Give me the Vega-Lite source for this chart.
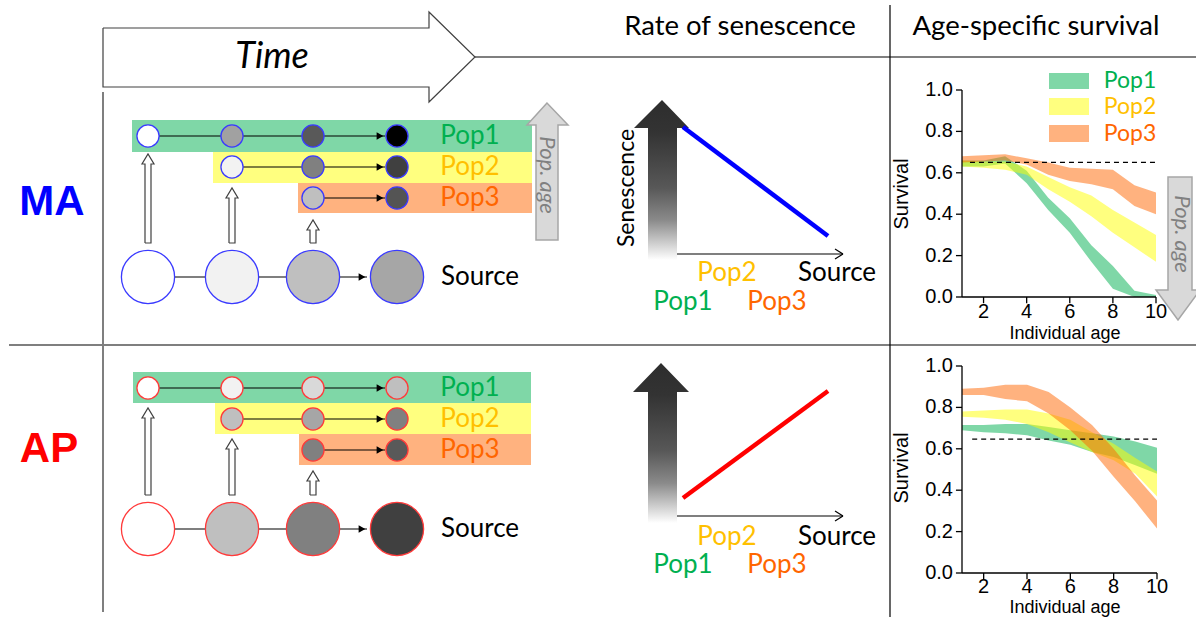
{
"$schema": "https://vega.github.io/schema/vega-lite/v6.json",
"width": 1196, "height": 617, "padding": 0, "autosize": "none",
"background": "white",
"config": {"view": {"stroke": null}},
"datasets": {
"bands": [
{"pop":"Pop1","x":132,"x2":532,"y":120,"y2":152},{"pop":"Pop2","x":213,"x2":532,"y":152,"y2":183},{"pop":"Pop3","x":298,"x2":532,"y":183,"y2":213},
{"pop":"Pop1","x":133,"x2":531,"y":372,"y2":403},{"pop":"Pop2","x":215,"x2":531,"y":403,"y2":434},{"pop":"Pop3","x":299,"x2":531,"y":434,"y2":465},
{"pop":"Pop1","x":1049,"x2":1089,"y":73,"y2":89},{"pop":"Pop2","x":1049,"x2":1089,"y":98,"y2":115},{"pop":"Pop3","x":1049,"x2":1089,"y":125,"y2":142}],
"frame": [{"x":475,"y":57,"x2":1196,"y2":57},{"x":890,"y":5,"x2":890,"y2":617},{"x":9,"y":345,"x2":1196,"y2":345}],
"border": [{"x":103,"y":92,"x2":103,"y2":612}],
"outline": [
{"id":"T","o":1,"x":103,"y":28},{"id":"T","o":2,"x":429,"y":28},{"id":"T","o":3,"x":429,"y":12},{"id":"T","o":4,"x":475,"y":57},{"id":"T","o":5,"x":429,"y":102},{"id":"T","o":6,"x":429,"y":87},{"id":"T","o":7,"x":103,"y":87},{"id":"T","o":8,"x":103,"y":28},
{"id":"A1","o":1,"x":145,"y":243},{"id":"A1","o":2,"x":145,"y":164},{"id":"A1","o":3,"x":142,"y":164},{"id":"A1","o":4,"x":148,"y":154},{"id":"A1","o":5,"x":154,"y":164},{"id":"A1","o":6,"x":151,"y":164},{"id":"A1","o":7,"x":151,"y":243},{"id":"A1","o":8,"x":145,"y":243},
{"id":"A2","o":1,"x":229,"y":243},{"id":"A2","o":2,"x":229,"y":198},{"id":"A2","o":3,"x":226,"y":198},{"id":"A2","o":4,"x":232,"y":188},{"id":"A2","o":5,"x":238,"y":198},{"id":"A2","o":6,"x":235,"y":198},{"id":"A2","o":7,"x":235,"y":243},{"id":"A2","o":8,"x":229,"y":243},
{"id":"A3","o":1,"x":310,"y":243},{"id":"A3","o":2,"x":310,"y":230},{"id":"A3","o":3,"x":307,"y":230},{"id":"A3","o":4,"x":313,"y":220},{"id":"A3","o":5,"x":319,"y":230},{"id":"A3","o":6,"x":316,"y":230},{"id":"A3","o":7,"x":316,"y":243},{"id":"A3","o":8,"x":310,"y":243},
{"id":"A4","o":1,"x":145,"y":495},{"id":"A4","o":2,"x":145,"y":418},{"id":"A4","o":3,"x":142,"y":418},{"id":"A4","o":4,"x":148,"y":408},{"id":"A4","o":5,"x":154,"y":418},{"id":"A4","o":6,"x":151,"y":418},{"id":"A4","o":7,"x":151,"y":495},{"id":"A4","o":8,"x":145,"y":495},
{"id":"A5","o":1,"x":229,"y":495},{"id":"A5","o":2,"x":229,"y":449},{"id":"A5","o":3,"x":226,"y":449},{"id":"A5","o":4,"x":232,"y":439},{"id":"A5","o":5,"x":238,"y":449},{"id":"A5","o":6,"x":235,"y":449},{"id":"A5","o":7,"x":235,"y":495},{"id":"A5","o":8,"x":229,"y":495},
{"id":"A6","o":1,"x":310,"y":495},{"id":"A6","o":2,"x":310,"y":481},{"id":"A6","o":3,"x":307,"y":481},{"id":"A6","o":4,"x":313,"y":471},{"id":"A6","o":5,"x":319,"y":481},{"id":"A6","o":6,"x":316,"y":481},{"id":"A6","o":7,"x":316,"y":495},{"id":"A6","o":8,"x":310,"y":495}],
"connectors": [
{"x":148,"y":136,"x2":385,"y2":136},{"x":232,"y":167,"x2":385,"y2":167},{"x":313,"y":198,"x2":385,"y2":198},{"x":148,"y":277,"x2":367,"y2":277},
{"x":148,"y":388,"x2":385,"y2":388},{"x":232,"y":419,"x2":385,"y2":419},{"x":313,"y":450,"x2":385,"y2":450},{"x":148,"y":529,"x2":367,"y2":529},
{"x":670,"y":254,"x2":843,"y2":254},{"x":835,"y":249,"x2":843,"y2":254},{"x":843,"y":254,"x2":835,"y2":259},
{"x":670,"y":516,"x2":843,"y2":516},{"x":835,"y":511,"x2":843,"y2":516},{"x":843,"y":516,"x2":835,"y2":521}],
"heads": [{"x":380,"y":136},{"x":380,"y":167},{"x":380,"y":198},{"x":362,"y":277},{"x":380,"y":388},{"x":380,"y":419},{"x":380,"y":450},{"x":362,"y":529}],
"grad": [
{"id":"MA","y":100,"x":662,"x2":662},{"id":"MA","y":128,"x":634,"x2":689},{"id":"MA","y":128,"x":648,"x2":677},{"id":"MA","y":260,"x":648,"x2":677},
{"id":"AP","y":363,"x":661,"x2":661},{"id":"AP","y":392,"x":633,"x2":689},{"id":"AP","y":392,"x":648,"x2":677},{"id":"AP","y":523,"x":648,"x2":677}],
"gray": [
{"id":"L","y":103,"x":547,"x2":547},{"id":"L","y":125,"x":527,"x2":568},{"id":"L","y":125,"x":536,"x2":558},{"id":"L","y":240,"x":536,"x2":558},
{"id":"R","y":177,"x":1168,"x2":1192},{"id":"R","y":290,"x":1168,"x2":1192},{"id":"R","y":290,"x":1156,"x2":1200},{"id":"R","y":320,"x":1178,"x2":1178}],
"trend": [{"pop":"MA","x":683,"y":127,"x2":828,"y2":236},{"pop":"AP","x":683,"y":498,"x2":828,"y2":391}],
"smallCircles": [
{"model":"MA","x":148,"y":136,"level":0},{"model":"MA","x":232,"y":136,"level":0.37},{"model":"MA","x":313,"y":136,"level":0.65},{"model":"MA","x":397,"y":136,"level":1},
{"model":"MA","x":232,"y":167,"level":0.05},{"model":"MA","x":313,"y":167,"level":0.5},{"model":"MA","x":397,"y":167,"level":0.75},
{"model":"MA","x":313,"y":198,"level":0.25},{"model":"MA","x":397,"y":198,"level":0.67},
{"model":"AP","x":148,"y":388,"level":0},{"model":"AP","x":232,"y":388,"level":0.05},{"model":"AP","x":313,"y":388,"level":0.15},{"model":"AP","x":397,"y":388,"level":0.25},
{"model":"AP","x":232,"y":419,"level":0.25},{"model":"AP","x":313,"y":419,"level":0.35},{"model":"AP","x":397,"y":419,"level":0.5},
{"model":"AP","x":313,"y":450,"level":0.5},{"model":"AP","x":397,"y":450,"level":0.65}],
"sourceCircles": [
{"model":"MA","x":148,"y":277,"level":0},{"model":"MA","x":232,"y":277,"level":0.05},{"model":"MA","x":313,"y":277,"level":0.25},{"model":"MA","x":397,"y":277,"level":0.35},
{"model":"AP","x":148,"y":529,"level":0},{"model":"AP","x":232,"y":529,"level":0.25},{"model":"AP","x":313,"y":529,"level":0.5},{"model":"AP","x":397,"y":529,"level":0.75}],
"popLabels": [
{"label":"Pop1","x":470,"y":136},{"label":"Pop2","x":470,"y":167},{"label":"Pop3","x":470,"y":198},{"label":"Source","x":480,"y":277},
{"label":"Pop1","x":470,"y":388},{"label":"Pop2","x":470,"y":419},{"label":"Pop3","x":470,"y":450},{"label":"Source","x":480,"y":529},
{"label":"Pop2","x":727,"y":273},{"label":"Source","x":837,"y":273},{"label":"Pop1","x":683,"y":302},{"label":"Pop3","x":777,"y":302},
{"label":"Pop2","x":727,"y":537},{"label":"Source","x":837,"y":537},{"label":"Pop1","x":683,"y":565},{"label":"Pop3","x":777,"y":565}],
"legendLabels": [{"label":"Pop1","x":1130,"y":81},{"label":"Pop2","x":1130,"y":107},{"label":"Pop3","x":1130,"y":134}],
"models": [{"label":"MA","x":52,"y":202},{"label":"AP","x":49,"y":449}],
"headers": [{"label":"Rate of senescence","x":740,"y":27},{"label":"Age-specific survival","x":1036,"y":27}],
"timeLabel": [{"label":"Time","x":272,"y":57}],
"senLabel": [{"label":"Senescence","x":627,"y":188}],
"popAge": [{"label":"Pop. age","x":547,"y":175},{"label":"Pop. age","x":1182,"y":234}],
"survTitles": [{"label":"Survival","x":902,"y":194},{"label":"Survival","x":902,"y":468}],
"ageTitles": [{"label":"Individual age","x":1065,"y":334},{"label":"Individual age","x":1065,"y":608}],
"xticks": [{"age":2},{"age":4},{"age":6},{"age":8},{"age":10}],
"yticks": [{"s":0},{"s":0.2},{"s":0.4},{"s":0.6},{"s":0.8},{"s":1}],
"survMA": [
{"age":1,"pop":"Pop1","lo":0.63,"hi":0.66},{"age":2,"pop":"Pop1","lo":0.63,"hi":0.66},{"age":3,"pop":"Pop1","lo":0.645,"hi":0.68},{"age":4,"pop":"Pop1","lo":0.55,"hi":0.61},{"age":5,"pop":"Pop1","lo":0.42,"hi":0.48},{"age":6,"pop":"Pop1","lo":0.31,"hi":0.38},{"age":7,"pop":"Pop1","lo":0.17,"hi":0.25},{"age":8,"pop":"Pop1","lo":0.04,"hi":0.15},{"age":9,"pop":"Pop1","lo":0.0,"hi":0.03},{"age":10,"pop":"Pop1","lo":0.0,"hi":0.01},
{"age":1,"pop":"Pop2","lo":0.63,"hi":0.66},{"age":2,"pop":"Pop2","lo":0.625,"hi":0.655},{"age":3,"pop":"Pop2","lo":0.615,"hi":0.655},{"age":4,"pop":"Pop2","lo":0.59,"hi":0.63},{"age":5,"pop":"Pop2","lo":0.52,"hi":0.58},{"age":6,"pop":"Pop2","lo":0.46,"hi":0.53},{"age":7,"pop":"Pop2","lo":0.39,"hi":0.49},{"age":8,"pop":"Pop2","lo":0.31,"hi":0.42},{"age":9,"pop":"Pop2","lo":0.24,"hi":0.36},{"age":10,"pop":"Pop2","lo":0.17,"hi":0.3},
{"age":1,"pop":"Pop3","lo":0.65,"hi":0.68},{"age":2,"pop":"Pop3","lo":0.655,"hi":0.685},{"age":3,"pop":"Pop3","lo":0.66,"hi":0.69},{"age":4,"pop":"Pop3","lo":0.64,"hi":0.67},{"age":5,"pop":"Pop3","lo":0.59,"hi":0.65},{"age":6,"pop":"Pop3","lo":0.56,"hi":0.625},{"age":7,"pop":"Pop3","lo":0.545,"hi":0.62},{"age":8,"pop":"Pop3","lo":0.52,"hi":0.615},{"age":9,"pop":"Pop3","lo":0.44,"hi":0.54},{"age":10,"pop":"Pop3","lo":0.4,"hi":0.505}],
"survAP": [
{"age":1,"pop":"Pop1","lo":0.69,"hi":0.715},{"age":2,"pop":"Pop1","lo":0.68,"hi":0.715},{"age":3,"pop":"Pop1","lo":0.675,"hi":0.72},{"age":4,"pop":"Pop1","lo":0.665,"hi":0.72},{"age":5,"pop":"Pop1","lo":0.64,"hi":0.705},{"age":6,"pop":"Pop1","lo":0.62,"hi":0.69},{"age":7,"pop":"Pop1","lo":0.585,"hi":0.675},{"age":8,"pop":"Pop1","lo":0.56,"hi":0.66},{"age":9,"pop":"Pop1","lo":0.52,"hi":0.635},{"age":10,"pop":"Pop1","lo":0.48,"hi":0.605},
{"age":1,"pop":"Pop2","lo":0.755,"hi":0.78},{"age":2,"pop":"Pop2","lo":0.75,"hi":0.785},{"age":3,"pop":"Pop2","lo":0.74,"hi":0.79},{"age":4,"pop":"Pop2","lo":0.72,"hi":0.79},{"age":5,"pop":"Pop2","lo":0.68,"hi":0.77},{"age":6,"pop":"Pop2","lo":0.63,"hi":0.74},{"age":7,"pop":"Pop2","lo":0.585,"hi":0.68},{"age":8,"pop":"Pop2","lo":0.545,"hi":0.625},{"age":9,"pop":"Pop2","lo":0.48,"hi":0.555},{"age":10,"pop":"Pop2","lo":0.37,"hi":0.49},
{"age":1,"pop":"Pop3","lo":0.86,"hi":0.89},{"age":2,"pop":"Pop3","lo":0.86,"hi":0.895},{"age":3,"pop":"Pop3","lo":0.84,"hi":0.91},{"age":4,"pop":"Pop3","lo":0.83,"hi":0.91},{"age":5,"pop":"Pop3","lo":0.77,"hi":0.875},{"age":6,"pop":"Pop3","lo":0.69,"hi":0.8},{"age":7,"pop":"Pop3","lo":0.59,"hi":0.715},{"age":8,"pop":"Pop3","lo":0.465,"hi":0.6},{"age":9,"pop":"Pop3","lo":0.345,"hi":0.47},{"age":10,"pop":"Pop3","lo":0.215,"hi":0.35}]
},
"resolve": {"scale": {"x": "independent", "y": "independent", "color": "independent", "fill": "independent", "stroke": "independent"}},
"layer": [
{
"encoding": {
"x": {"field": "x", "type": "quantitative", "scale": {"domain": [0, 1196], "nice": false, "zero": false}, "axis": null},
"y": {"field": "y", "type": "quantitative", "scale": {"domain": [0, 617], "reverse": true, "nice": false, "zero": false}, "axis": null}
},
"layer": [
{"data": {"name": "bands"}, "mark": {"type": "rect", "opacity": 0.5},
 "encoding": {"x2": {"field": "x2"}, "y2": {"field": "y2"},
 "color": {"field": "pop", "type": "nominal", "scale": {"domain": ["Pop1","Pop2","Pop3","MA","AP"], "range": ["#00b050","#ffff00","#ff6600","#0000ff","#ff0000"]}, "legend": null}}},
{"data": {"name": "frame"}, "mark": {"type": "rule", "color": "#000000", "strokeWidth": 1.2},
 "encoding": {"x2": {"field": "x2"}, "y2": {"field": "y2"}}},
{"data": {"name": "border"}, "mark": {"type": "rule", "color": "#7f7f7f", "strokeWidth": 2},
 "encoding": {"x2": {"field": "x2"}, "y2": {"field": "y2"}}},
{"data": {"name": "outline"}, "mark": {"type": "line", "color": "#404040", "strokeWidth": 1.2},
 "encoding": {"detail": {"field": "id"}, "order": {"field": "o", "type": "quantitative"}}},
{"data": {"name": "connectors"}, "mark": {"type": "rule", "color": "#000000", "strokeWidth": 1.2},
 "encoding": {"x2": {"field": "x2"}, "y2": {"field": "y2"}}},
{"data": {"name": "heads"}, "mark": {"type": "point", "shape": "triangle-right", "filled": true, "color": "#000000", "size": 60, "opacity": 1}},
{"data": {"name": "grad"}, "mark": {"type": "area", "orient": "horizontal",
 "fill": {"gradient": "linear", "x1": 0, "y1": 0, "x2": 0, "y2": 1, "stops": [{"offset": 0, "color": "#2d2d2d"}, {"offset": 0.2, "color": "#333333"}, {"offset": 0.55, "color": "#585858"}, {"offset": 0.75, "color": "#8a8a8a"}, {"offset": 0.9, "color": "#d0d0d0"}, {"offset": 1, "color": "#ffffff"}]}},
 "encoding": {"x2": {"field": "x2"}, "detail": {"field": "id"}}},
{"data": {"name": "gray"}, "mark": {"type": "area", "orient": "horizontal", "fill": "#d9d9d9", "stroke": "#a6a6a6", "strokeWidth": 1.5},
 "encoding": {"x2": {"field": "x2"}, "detail": {"field": "id"}}},
{"data": {"name": "trend"}, "mark": {"type": "rule", "strokeWidth": 4.5},
 "encoding": {"x2": {"field": "x2"}, "y2": {"field": "y2"},
 "color": {"field": "pop", "type": "nominal", "scale": {"domain": ["Pop1","Pop2","Pop3","MA","AP"], "range": ["#00b050","#ffff00","#ff6600","#0000ff","#ff0000"]}, "legend": null}}},
{"data": {"name": "smallCircles"}, "mark": {"type": "point", "shape": "circle", "filled": true, "size": 490, "strokeWidth": 1.3, "opacity": 1, "strokeOpacity": 1},
 "encoding": {"fill": {"field": "level", "type": "quantitative", "scale": {"domain": [0, 1], "range": ["#ffffff", "#000000"], "interpolate": "rgb"}, "legend": null},
 "stroke": {"field": "model", "type": "nominal", "scale": {"domain": ["MA","AP"], "range": ["#3a3aff","#ff3a3a"]}, "legend": null}}},
{"data": {"name": "sourceCircles"}, "mark": {"type": "point", "shape": "circle", "filled": true, "size": 2830, "strokeWidth": 1.3, "opacity": 1, "strokeOpacity": 1},
 "encoding": {"fill": {"field": "level", "type": "quantitative", "scale": {"domain": [0, 1], "range": ["#ffffff", "#000000"], "interpolate": "rgb"}, "legend": null},
 "stroke": {"field": "model", "type": "nominal", "scale": {"domain": ["MA","AP"], "range": ["#3a3aff","#ff3a3a"]}, "legend": null}}}
]
},
{
"encoding": {
"x": {"field": "x", "type": "quantitative", "scale": {"domain": [0, 1196], "nice": false, "zero": false}, "axis": null},
"y": {"field": "y", "type": "quantitative", "scale": {"domain": [0, 617], "reverse": true, "nice": false, "zero": false}, "axis": null},
"text": {"field": "label"}
},
"layer": [
{"data": {"name": "popLabels"}, "mark": {"type": "text", "font": "Lato", "fontSize": 26, "align": "center", "baseline": "middle"},
 "encoding": {"color": {"field": "label", "type": "nominal", "scale": {"domain": ["Pop1","Pop2","Pop3","Source","MA","AP"], "range": ["#00b050","#ffc000","#ff6600","#000000","#0000ff","#ff0000"]}, "legend": null}}},
{"data": {"name": "legendLabels"}, "mark": {"type": "text", "font": "Lato", "fontSize": 23, "align": "center", "baseline": "middle"},
 "encoding": {"color": {"field": "label", "type": "nominal", "scale": {"domain": ["Pop1","Pop2","Pop3","Source","MA","AP"], "range": ["#00b050","#ffc000","#ff6600","#000000","#0000ff","#ff0000"]}, "legend": null}}},
{"data": {"name": "models"}, "mark": {"type": "text", "font": "Liberation Sans Narrow, Liberation Sans", "fontWeight": "bold", "fontSize": 42, "align": "center", "baseline": "middle"},
 "encoding": {"color": {"field": "label", "type": "nominal", "scale": {"domain": ["Pop1","Pop2","Pop3","Source","MA","AP"], "range": ["#00b050","#ffc000","#ff6600","#000000","#0000ff","#ff0000"]}, "legend": null}}},
{"data": {"name": "headers"}, "mark": {"type": "text", "font": "Lato", "fontSize": 27.5, "align": "center", "baseline": "middle", "color": "#000000"}},
{"data": {"name": "timeLabel"}, "mark": {"type": "text", "font": "Lato", "fontStyle": "italic", "fontSize": 36, "align": "center", "baseline": "middle", "color": "#000000"}},
{"data": {"name": "senLabel"}, "mark": {"type": "text", "font": "Lato", "fontSize": 23, "angle": 270, "align": "center", "baseline": "middle", "color": "#000000"}},
{"data": {"name": "popAge"}, "mark": {"type": "text", "font": "Lato", "fontStyle": "italic", "fontSize": 22, "angle": 90, "align": "center", "baseline": "middle", "color": "#808080"}},
{"data": {"name": "survTitles"}, "mark": {"type": "text", "font": "Liberation Sans", "fontSize": 20, "angle": 270, "align": "center", "baseline": "middle", "color": "#000000"}},
{"data": {"name": "ageTitles"}, "mark": {"type": "text", "font": "Liberation Sans", "fontSize": 18, "align": "center", "baseline": "middle", "color": "#000000"}}
]
},
{
"layer": [
{"data": {"name": "survMA"}, "mark": {"type": "area", "opacity": 0.5},
 "encoding": {
 "x": {"field": "age", "type": "quantitative", "scale": {"domain": [1, 10], "range": [962, 1156], "nice": false, "zero": false}, "axis": null},
 "y": {"field": "lo", "type": "quantitative", "scale": {"domain": [0, 1], "range": [297, 90], "nice": false, "zero": false}, "axis": null},
 "y2": {"field": "hi"},
 "color": {"field": "pop", "type": "nominal", "scale": {"domain": ["Pop1","Pop2","Pop3"], "range": ["#00b050","#ffff00","#ff6600"]}, "legend": null}}},
{"data": {"values": [{}]}, "mark": {"type": "rule", "color": "#000000", "strokeWidth": 1.2, "strokeDash": [5, 4]},
 "encoding": {"x": {"datum": 1.37}, "x2": {"datum": 10}, "y": {"datum": 0.65}}},
{"data": {"values": [{}]}, "mark": {"type": "rule", "color": "#000000", "strokeWidth": 1.3},
 "encoding": {"x": {"datum": 1}, "x2": {"datum": 10}, "y": {"datum": 0}}},
{"data": {"values": [{}]}, "mark": {"type": "rule", "color": "#000000", "strokeWidth": 1.3},
 "encoding": {"x": {"datum": 1}, "y": {"datum": 0}, "y2": {"datum": 1}}},
{"data": {"name": "xticks"}, "mark": {"type": "rule", "color": "#000000", "strokeWidth": 1.3},
 "encoding": {"x": {"field": "age", "type": "quantitative"}, "y": {"datum": 0}, "y2": {"datum": -0.03}}},
{"data": {"name": "xticks"}, "mark": {"type": "text", "font": "Liberation Sans", "fontSize": 20, "dy": 15, "baseline": "middle", "color": "#000000"},
 "encoding": {"x": {"field": "age", "type": "quantitative"}, "y": {"datum": 0}, "text": {"field": "age"}}},
{"data": {"name": "yticks"}, "mark": {"type": "rule", "color": "#000000", "strokeWidth": 1.3},
 "encoding": {"y": {"field": "s", "type": "quantitative"}, "x": {"datum": 1}, "x2": {"datum": 0.72}}},
{"data": {"name": "yticks"}, "mark": {"type": "text", "font": "Liberation Sans", "fontSize": 20, "dx": -9, "align": "right", "baseline": "middle", "color": "#000000"},
 "encoding": {"y": {"field": "s", "type": "quantitative"}, "x": {"datum": 1}, "text": {"field": "s", "format": ".1f"}}}
]
},
{
"layer": [
{"data": {"name": "survAP"}, "mark": {"type": "area", "opacity": 0.5},
 "encoding": {
 "x": {"field": "age", "type": "quantitative", "scale": {"domain": [1, 10], "range": [962, 1157], "nice": false, "zero": false}, "axis": null},
 "y": {"field": "lo", "type": "quantitative", "scale": {"domain": [0, 1], "range": [573, 366], "nice": false, "zero": false}, "axis": null},
 "y2": {"field": "hi"},
 "color": {"field": "pop", "type": "nominal", "scale": {"domain": ["Pop1","Pop2","Pop3"], "range": ["#00b050","#ffff00","#ff6600"]}, "legend": null}}},
{"data": {"values": [{}]}, "mark": {"type": "rule", "color": "#000000", "strokeWidth": 1.2, "strokeDash": [5, 4]},
 "encoding": {"x": {"datum": 1.47}, "x2": {"datum": 10}, "y": {"datum": 0.647}}},
{"data": {"values": [{}]}, "mark": {"type": "rule", "color": "#000000", "strokeWidth": 1.3},
 "encoding": {"x": {"datum": 1}, "x2": {"datum": 10}, "y": {"datum": 0}}},
{"data": {"values": [{}]}, "mark": {"type": "rule", "color": "#000000", "strokeWidth": 1.3},
 "encoding": {"x": {"datum": 1}, "y": {"datum": 0}, "y2": {"datum": 1}}},
{"data": {"name": "xticks"}, "mark": {"type": "rule", "color": "#000000", "strokeWidth": 1.3},
 "encoding": {"x": {"field": "age", "type": "quantitative"}, "y": {"datum": 0}, "y2": {"datum": -0.03}}},
{"data": {"name": "xticks"}, "mark": {"type": "text", "font": "Liberation Sans", "fontSize": 20, "dy": 14, "baseline": "middle", "color": "#000000"},
 "encoding": {"x": {"field": "age", "type": "quantitative"}, "y": {"datum": 0}, "text": {"field": "age"}}},
{"data": {"name": "yticks"}, "mark": {"type": "rule", "color": "#000000", "strokeWidth": 1.3},
 "encoding": {"y": {"field": "s", "type": "quantitative"}, "x": {"datum": 1}, "x2": {"datum": 0.72}}},
{"data": {"name": "yticks"}, "mark": {"type": "text", "font": "Liberation Sans", "fontSize": 20, "dx": -9, "align": "right", "baseline": "middle", "color": "#000000"},
 "encoding": {"y": {"field": "s", "type": "quantitative"}, "x": {"datum": 1}, "text": {"field": "s", "format": ".1f"}}}
]
}
]
}
